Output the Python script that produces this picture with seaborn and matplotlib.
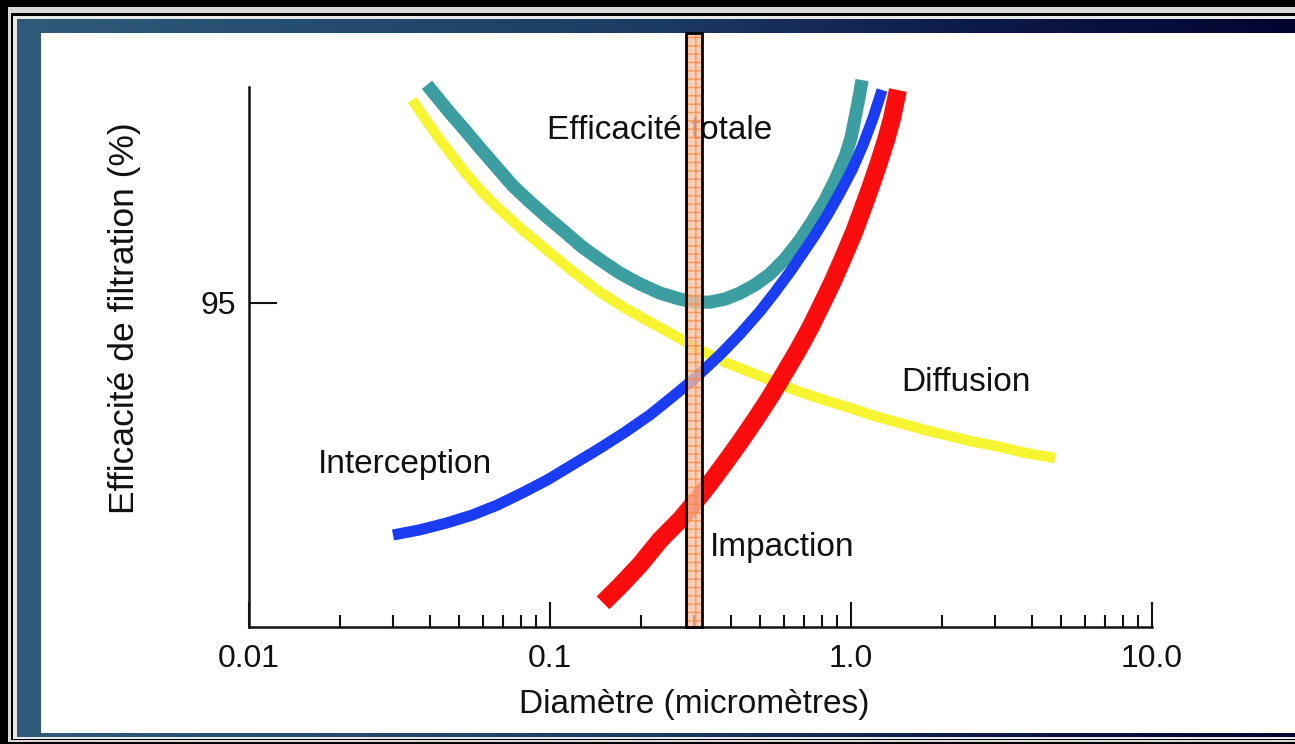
import matplotlib
matplotlib.use("Agg")
import matplotlib.pyplot as plt
from matplotlib.patches import Rectangle
from matplotlib.colors import LinearSegmentedColormap
from matplotlib.ticker import FixedLocator, FixedFormatter, LogLocator, NullFormatter
import numpy as np
import pandas as pd
import seaborn as sns

# values: diameter (micrometres) vs filtration efficiency (%)
total_d = [0.0390, 0.0421, 0.0465, 0.0522, 0.0585, 0.0667, 0.0753, 0.0858, 0.0985,
           0.1122, 0.1277, 0.1466, 0.1708, 0.199, 0.2319, 0.2704, 0.3032, 0.340,
           0.3814, 0.4277, 0.4799, 0.538, 0.6036, 0.677, 0.7419, 0.8197, 0.8916,
           0.955, 1.0, 1.031, 1.063, 1.088]
total_e = [100.05, 99.77, 99.40, 99.00, 98.59, 98.13, 97.71, 97.34, 96.97,
           96.64, 96.30, 96.00, 95.69, 95.44, 95.23, 95.09, 95.02, 95.02,
           95.09, 95.23, 95.42, 95.67, 96.02, 96.46, 96.88, 97.38, 97.89,
           98.38, 98.82, 99.28, 99.75, 100.16]

diffusion_d = [0.0348, 0.0421, 0.0514, 0.0585, 0.0667, 0.0795, 0.1, 0.1211, 0.1466,
               0.1775, 0.2149, 0.2602, 0.315, 0.3814, 0.462, 0.559, 0.677, 0.8197,
               0.993, 1.202, 1.455, 1.761, 2.133, 2.582, 3.126, 3.786, 4.76]
diffusion_e = [99.70, 98.87, 98.08, 97.62, 97.22, 96.74, 96.16, 95.69, 95.25,
               94.88, 94.56, 94.24, 93.91, 93.63, 93.40, 93.17, 92.94, 92.75,
               92.57, 92.38, 92.22, 92.06, 91.92, 91.78, 91.67, 91.53, 91.41]

interception_d = [0.0301, 0.0370, 0.0455, 0.0551, 0.0667, 0.0807, 0.0977, 0.1184,
                  0.1466, 0.1775, 0.2149, 0.2543, 0.3032, 0.367, 0.4277, 0.499,
                  0.559, 0.627, 0.6926, 0.759, 0.8386, 0.919, 1.0077, 1.096,
                  1.1834, 1.268]
interception_e = [89.63, 89.75, 89.91, 90.09, 90.32, 90.60, 90.90, 91.25,
                  91.64, 92.01, 92.41, 92.82, 93.26, 93.80, 94.28, 94.81,
                  95.25, 95.72, 96.16, 96.57, 97.06, 97.55, 98.08, 98.66,
                  99.28, 99.93]

impaction_d = [0.150, 0.1708, 0.199, 0.2319, 0.2704, 0.3032, 0.340, 0.3814, 0.4277,
               0.4799, 0.538, 0.6036, 0.6666, 0.731, 0.8009, 0.8713, 0.9478, 1.0233,
               1.096, 1.165, 1.239, 1.307, 1.369, 1.432]
impaction_e = [88.06, 88.45, 88.94, 89.51, 89.98, 90.39, 90.83, 91.30, 91.78,
               92.29, 92.82, 93.40, 93.91, 94.42, 94.98, 95.51, 96.09, 96.64,
               97.20, 97.71, 98.26, 98.77, 99.28, 99.93]

# highlighted band around the most penetrating particle size
mpps_band = [0.283, 0.320]

x_ticks = [0.01, 0.1, 1.0, 10.0]
x_labels = ["0.01", "0.1", "1.0", "10.0"]
y_ticks = [95]
y_labels = ["95"]

sns.set_style("white")
plt.rcParams['font.family'] = ['Liberation Sans', 'DejaVu Sans']

W, H = 1295, 744
fig = plt.figure(figsize=(W / 100, H / 100), dpi=100, facecolor='black')


def frame_rect(x0, y0, x1, y1, color, z):
    fig.patches.append(Rectangle((x0 / W, 1 - y1 / H), (x1 - x0) / W, (y1 - y0) / H,
                                 transform=fig.transFigure, facecolor=color,
                                 edgecolor='none', zorder=z))


# slide frame
frame_rect(8, 7, W, 742, '#d8d8d8', -20)
frame_rect(11, 13, W, 740, 'black', -19)
frame_rect(13, 16, W, 739, '#e8e8e8', -18)

bg = fig.add_axes([17 / W, 1 - 737 / H, (W - 17) / W, (737 - 19) / H], zorder=-5)
band_cmap = LinearSegmentedColormap.from_list(
    'band', ['#2f5b78', '#244b6c', '#1c3b62', '#0d1a48', '#03052f'])
bg.imshow(np.linspace(0, 1, 256)[None, :], aspect='auto', cmap=band_cmap,
          extent=[0, 1, 0, 1])
bg.set_axis_off()
frame_rect(41, 33, W, 733, 'white', -4)

ax = fig.add_axes([249 / W, 1 - 627 / H, (1152 - 249) / W, (627 - 87) / H], zorder=1)
ax.set_facecolor('none')

curves = [
    (diffusion_d, diffusion_e, '#f7f531', 7.5),
    (total_d, total_e, '#3c9ea0', 9.5),
    (interception_d, interception_e, '#1a3cf5', 8.0),
    (impaction_d, impaction_e, '#fb0d0d', 13.0),
]
for d, e, col, lw in curves:
    df = pd.DataFrame({'d': d, 'e': e})
    sns.lineplot(data=df, x='d', y='e', sort=False, estimator=None, ax=ax,
                 color=col, linewidth=lw, solid_capstyle='butt',
                 solid_joinstyle='round', clip_on=False)

ax.set_xscale('log')
ax.set_xlim(0.01, 10)
ax.set_ylim(87.5, 100)

ax.xaxis.set_major_locator(FixedLocator(x_ticks))
ax.xaxis.set_major_formatter(FixedFormatter(x_labels))
ax.xaxis.set_minor_locator(LogLocator(base=10, subs=np.arange(2, 10)))
ax.xaxis.set_minor_formatter(NullFormatter())
ax.yaxis.set_major_locator(FixedLocator(y_ticks))
ax.yaxis.set_major_formatter(FixedFormatter(y_labels))

ax.tick_params(axis='x', which='major', direction='in', length=18, width=1.5,
               pad=12, labelsize=23, colors='#111111', bottom=True)
ax.tick_params(axis='x', which='minor', direction='in', length=9, width=1.5,
               color='#111111', bottom=True)
ax.tick_params(axis='y', which='major', direction='in', length=20, width=1.5,
               pad=9, labelsize=23, colors='#111111', left=True)

for side in ['top', 'right']:
    ax.spines[side].set_visible(False)
for side in ['left', 'bottom']:
    ax.spines[side].set_color('#111111')
    ax.spines[side].set_linewidth(1.8)

ax.set_xlabel('Diamètre (micromètres)', fontsize=24, color='#111111')
ax.xaxis.set_label_coords((694 - 249) / 903, (627 - 689) / 540)
ax.set_ylabel('Efficacité de filtration (%)', fontsize=25.5, color='#111111')
ax.yaxis.set_label_coords((141 - 249) / 903, (627 - 318) / 540)

txt = dict(fontsize=24, color='#111111', ha='center', va='center')
ax.text(0.2314, 99.0, 'Efficacité totale', **txt)
ax.text(2.41, 93.15, 'Diffusion', **txt)
ax.text(0.033, 91.25, 'Interception', **txt)
ax.text(0.590, 89.33, 'Impaction', **txt)

# orange marker band (slightly see-through, like the original overlay)
band_top = 95 + (303 - 33) / 43.2
band = Rectangle((mpps_band[0], 87.5), mpps_band[1] - mpps_band[0], band_top - 87.5,
                 facecolor='#fcc2a2', edgecolor='#f5873c', hatch='++', linewidth=0,
                 alpha=0.78, clip_on=False, zorder=5)
ax.add_patch(band)
ax.add_patch(Rectangle((mpps_band[0], 87.5), mpps_band[1] - mpps_band[0], band_top - 87.5,
                       facecolor='none', edgecolor='black', linewidth=2.0,
                       clip_on=False, zorder=6))

fig.savefig('out.png', dpi=100, facecolor=fig.get_facecolor())
